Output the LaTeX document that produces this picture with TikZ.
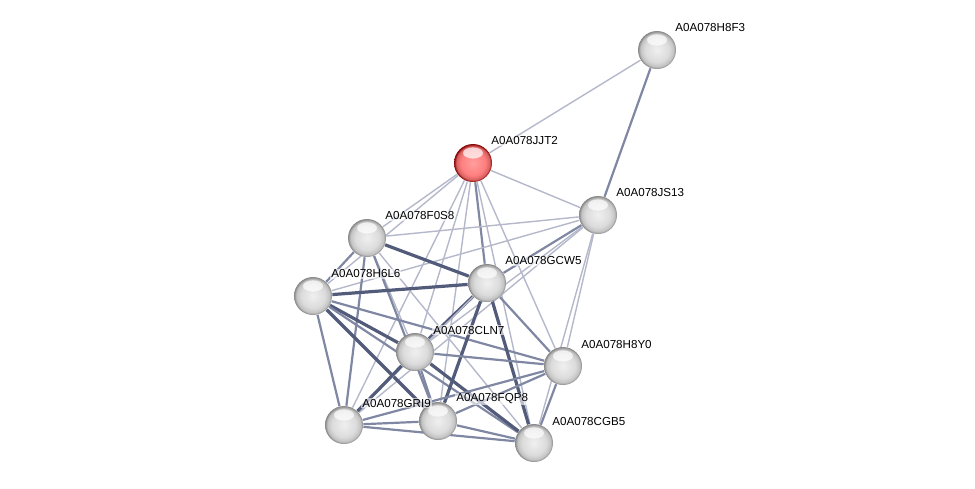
\documentclass[tikz,border=0pt]{standalone}
\usepackage{fontspec}
\setmainfont{Liberation Sans}
\usepackage{tikz}
\usetikzlibrary{backgrounds}
\definecolor{edgeweak}{HTML}{B4B8CA}
\definecolor{edgemid}{HTML}{7F87A3}
\definecolor{edgestrong}{HTML}{535B7A}
\pgfdeclareradialshading{greyball}{\pgfpoint{0bp}{0bp}}{color(0bp)=(white!94!black); color(16bp)=(white!86!black); color(22bp)=(white!76!black); color(25bp)=(white!52!black); color(50bp)=(white!52!black)}
\pgfdeclareradialshading{redball}{\pgfpoint{0bp}{0bp}}{color(0bp)=(red!38!white); color(16bp)=(red!50!white); color(22bp)=(red!55!white!85!black); color(25bp)=(red!50!black); color(50bp)=(red!50!black)}

\begin{document}
\begin{tikzpicture}[
    x=0.5pt, y=-0.5pt,
    prot/.style={circle, minimum size=19pt, inner sep=0pt, shading=greyball,
        path picture={\fill[white, opacity=0.7] ([yshift=5pt]path picture bounding box.center) ellipse (5pt and 2.8pt);}},
    query/.style={prot, shading=redball},
    lbl/.style={font=\fontsize{5.8}{7}\selectfont, inner sep=0.5pt, anchor=west,
        fill=white, fill opacity=0.6, text opacity=1},
    weak/.style={draw=edgeweak, line width=0.7pt},
    mid/.style={draw=edgemid, line width=1.1pt},
    strong/.style={draw=edgestrong, line width=1.6pt}
]
    \useasboundingbox (0,0) rectangle (975,488);
    % proteins
    \node[query] (jjt2) at (473,163) {};
    \node[prot] (h8f3) at (657,50) {};
    \node[prot] (js13) at (598,215) {};
    \node[prot] (f0s8) at (367,238) {};
    \node[prot] (gcw5) at (487,283) {};
    \node[prot] (h6l6) at (313,296) {};
    \node[prot] (cln7) at (415,352) {};
    \node[prot] (h8y0) at (563,366) {};
    \node[prot] (gri9) at (344,425) {};
    \node[prot] (fqp8) at (438,421) {};
    \node[prot] (cgb5) at (534,443) {};

    % names
    \node[lbl] (jjt2-l) at ([shift={(17,-22)}]jjt2) {A0A078JJT2};
    \node[lbl] (h8f3-l) at ([shift={(17,-22)}]h8f3) {A0A078H8F3};
    \node[lbl] (js13-l) at ([shift={(17,-22)}]js13) {A0A078JS13};
    \node[lbl] (f0s8-l) at ([shift={(17,-22)}]f0s8) {A0A078F0S8};
    \node[lbl] (gcw5-l) at ([shift={(17,-22)}]gcw5) {A0A078GCW5};
    \node[lbl] (h6l6-l) at ([shift={(17,-22)}]h6l6) {A0A078H6L6};
    \node[lbl] (cln7-l) at ([shift={(17,-22)}]cln7) {A0A078CLN7};
    \node[lbl] (h8y0-l) at ([shift={(17,-22)}]h8y0) {A0A078H8Y0};
    \node[lbl] (gri9-l) at ([shift={(17,-22)}]gri9) {A0A078GRI9};
    \node[lbl] (fqp8-l) at ([shift={(17,-22)}]fqp8) {A0A078FQP8};
    \node[lbl] (cgb5-l) at ([shift={(17,-22)}]cgb5) {A0A078CGB5};

    % interactions
    \begin{scope}[on background layer]
    \draw[weak] (jjt2) -- (h8f3);
    \draw[weak] (jjt2) -- (js13);
    \draw[weak] (jjt2) -- (f0s8);
    \draw[weak] (jjt2) -- (h6l6);
    \draw[mid] (jjt2) -- (gcw5);
    \draw[weak] (jjt2) -- (cln7);
    \draw[weak] (jjt2) -- (gri9);
    \draw[weak] (jjt2) -- (fqp8);
    \draw[weak] (jjt2) -- (h8y0);
    \draw[weak] (jjt2) -- (cgb5);
    \draw[mid] (h8f3) -- (js13);
    \draw[weak] (js13) -- (f0s8);
    \draw[weak] (js13) -- (h6l6);
    \draw[mid] (js13) -- (gcw5);
    \draw[weak] (js13) -- (cln7);
    \draw[weak] (js13) -- (gri9);
    \draw[weak] (js13) -- (h8y0);
    \draw[weak] (js13) -- (cgb5);
    \draw[mid] (f0s8) -- (h6l6);
    \draw[strong] (f0s8) -- (gcw5);
    \draw[weak] (f0s8) -- (cln7);
    \draw[mid] (f0s8) -- (gri9);
    \draw[mid] (f0s8) -- (fqp8);
    \draw[weak] (f0s8) -- (cgb5);
    \draw[strong] (h6l6) -- (gcw5);
    \draw[strong] (h6l6) -- (cln7);
    \draw[mid] (h6l6) -- (gri9);
    \draw[strong] (h6l6) -- (fqp8);
    \draw[mid] (h6l6) -- (h8y0);
    \draw[mid] (h6l6) -- (cgb5);
    \draw[strong] (gcw5) -- (cln7);
    \draw[weak] (gcw5) -- (gri9);
    \draw[strong] (gcw5) -- (fqp8);
    \draw[mid] (gcw5) -- (h8y0);
    \draw[strong] (gcw5) -- (cgb5);
    \draw[strong] (cln7) -- (gri9);
    \draw[mid] (cln7) -- (fqp8);
    \draw[mid] (cln7) -- (h8y0);
    \draw[strong] (cln7) -- (cgb5);
    \draw[mid] (gri9) -- (fqp8);
    \draw[mid] (gri9) -- (h8y0);
    \draw[mid] (gri9) -- (cgb5);
    \draw[mid] (fqp8) -- (h8y0);
    \draw[mid] (fqp8) -- (cgb5);
    \draw[mid] (h8y0) -- (cgb5);
    \end{scope}
\end{tikzpicture}
\end{document}
